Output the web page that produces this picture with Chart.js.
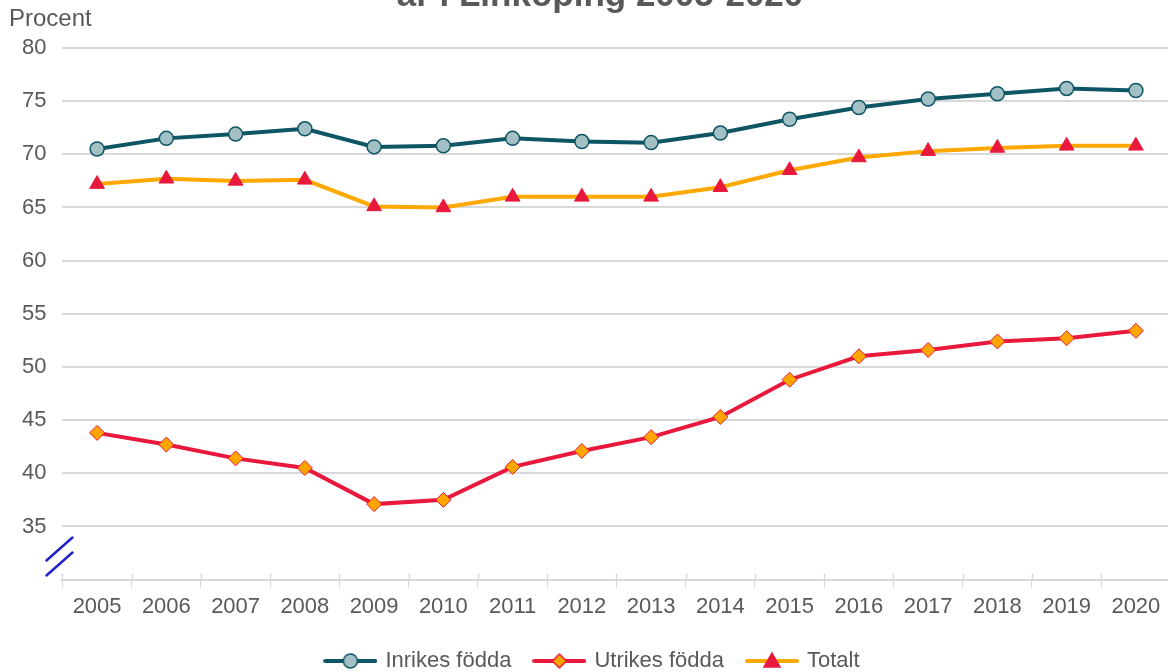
<!DOCTYPE html>
<html>
<head>
<meta charset="utf-8">
<script src="https://cdn.jsdelivr.net/npm/chart.js@4"></script>
<style>
  html, body { margin: 0; padding: 0; background: #fff; overflow: hidden; }
  #wrap { width: 1180px; height: 682px; position: relative; }
</style>
</head>
<body>
<div id="wrap"><canvas id="chart"></canvas></div>
<script>
const years = ['2005', '2006', '2007', '2008', '2009', '2010', '2011', '2012', '2013', '2014', '2015', '2016', '2017', '2018', '2019', '2020'];
const inrikes = [70.5, 71.5, 71.9, 72.4, 70.7, 70.8, 71.5, 71.2, 71.1, 72.0, 73.3, 74.4, 75.2, 75.7, 76.2, 76.0];
const utrikes = [43.8, 42.7, 41.4, 40.5, 37.1, 37.5, 40.6, 42.1, 43.4, 45.3, 48.8, 51.0, 51.6, 52.4, 52.7, 53.4];
const totalt = [67.2, 67.7, 67.5, 67.6, 65.1, 65.0, 66.0, 66.0, 66.0, 66.9, 68.5, 69.7, 70.3, 70.6, 70.8, 70.8];
const seriesNames = ['Inrikes födda', 'Utrikes födda', 'Totalt'];
const titleText = 'år i Linköping 2005-2020';
const yUnit = 'Procent';

const grey = '#595959';
const font = 'Liberation Sans, Arial, sans-serif';

// legend symbol: line with marker in the middle
function legendIcon(lineColor, markerFill, markerStroke, shape) {
    const c = document.createElement('canvas');
    c.width = 54; c.height = 20;
    const ctx = c.getContext('2d');
    ctx.strokeStyle = lineColor;
    ctx.lineWidth = 4;
    ctx.lineCap = 'round';
    ctx.beginPath();
    ctx.moveTo(2, 10); ctx.lineTo(52, 10);
    ctx.stroke();
    ctx.fillStyle = markerFill;
    ctx.strokeStyle = markerStroke;
    ctx.lineWidth = 1.5;
    ctx.beginPath();
    if (shape === 'circle') {
        ctx.arc(27, 10, 7, 0, Math.PI * 2);
    } else if (shape === 'diamond') {
        ctx.moveTo(27, 3); ctx.lineTo(34, 10); ctx.lineTo(27, 17); ctx.lineTo(20, 10); ctx.closePath();
    } else {
        ctx.moveTo(27, 2); ctx.lineTo(35, 16); ctx.lineTo(19, 16); ctx.closePath();
    }
    ctx.fill();
    ctx.stroke();
    return c;
}

const icons = [
    legendIcon('#0e5565', '#a3c1c5', '#0e5565', 'circle'),
    legendIcon('#e8193c', '#ffa500', '#e8193c', 'diamond'),
    legendIcon('#ffa800', '#e8193c', '#e8193c', 'triangle')
];

const extras = {
    id: 'extras',
    afterDraw(chart) {
        const ctx = chart.ctx;
        const area = chart.chartArea;
        const y = chart.scales.y;
        const x = chart.scales.x;
        ctx.save();
        // title, cut at the top edge as in the original
        ctx.font = 'bold 35px ' + font;
        ctx.fillStyle = grey;
        ctx.textAlign = 'center';
        ctx.textBaseline = 'alphabetic';
        ctx.fillText(titleText, 600, 6);
        // unit label
        ctx.font = '24px ' + font;
        ctx.textAlign = 'left';
        ctx.textBaseline = 'middle';
        ctx.fillText(yUnit, 9, 19);
        // short tick stubs above the x axis line
        ctx.strokeStyle = '#d9d9d9';
        ctx.lineWidth = 1.5;
        ctx.beginPath();
        for (let i = 0; i <= years.length; i++) {
            const px = Math.round(x.getPixelForValue(i - 0.5)) + 0.5;
            ctx.moveTo(px, area.bottom - 6); ctx.lineTo(px, area.bottom);
        }
        ctx.stroke();
        // axis break marks
        ctx.strokeStyle = '#2323c8';
        ctx.lineWidth = 2.5;
        ctx.lineCap = 'round';
        const x0 = area.left - 16, x1 = area.left + 10;
        const yb = y.getPixelForValue(31.8);
        ctx.beginPath();
        ctx.moveTo(x0, yb); ctx.lineTo(x1, yb - 23);
        ctx.moveTo(x0, yb + 15); ctx.lineTo(x1, yb - 8);
        ctx.stroke();
        ctx.restore();
    }
};

new Chart(document.getElementById('chart'), {
    type: 'line',
    data: {
        labels: years,
        datasets: [{
            label: seriesNames[0],
            data: inrikes,
            borderColor: '#0e5565',
            borderWidth: 4,
            pointStyle: 'circle',
            pointRadius: 7,
            pointBackgroundColor: '#a3c1c5',
            pointBorderColor: '#0e5565',
            pointBorderWidth: 1.5
        }, {
            label: seriesNames[1],
            data: utrikes,
            borderColor: '#e8193c',
            borderWidth: 4,
            pointStyle: 'rectRot',
            pointRadius: 7.5,
            pointBackgroundColor: '#ffa500',
            pointBorderColor: '#e8193c',
            pointBorderWidth: 1
        }, {
            label: seriesNames[2],
            data: totalt,
            borderColor: '#ffa800',
            borderWidth: 4,
            pointStyle: 'triangle',
            pointRadius: 8.5,
            pointBackgroundColor: '#e8193c',
            pointBorderColor: '#e8193c',
            pointBorderWidth: 1
        }]
    },
    options: {
        responsive: true,
        maintainAspectRatio: false,
        animation: false,
        layout: { padding: { top: 48, right: 0, left: 6, bottom: 0 } },
        scales: {
            x: {
                offset: true,
                grid: { display: true, drawOnChartArea: false, color: '#d9d9d9', tickLength: 8, offset: true },
                border: { color: '#d9d9d9', width: 2 },
                ticks: { color: grey, font: { family: font, size: 22 }, padding: 6, maxRotation: 0 }
            },
            y: {
                min: 30,
                max: 80,
                grid: { color: '#d9d9d9', lineWidth: 2, drawTicks: false },
                border: { display: false },
                ticks: {
                    stepSize: 5,
                    color: grey,
                    font: { family: font, size: 22 },
                    padding: 16,
                    callback: v => v === 30 ? '' : v
                }
            }
        },
        plugins: {
            legend: {
                position: 'bottom',
                labels: {
                    usePointStyle: true,
                    pointStyleWidth: 48,
                    padding: 24,
                    color: grey,
                    font: { family: font, size: 22 },
                    generateLabels: chart => chart.data.datasets.map((ds, i) => ({
                        text: ds.label,
                        pointStyle: icons[i],
                        datasetIndex: i,
                        fontColor: grey,
                        lineWidth: 0,
                        hidden: false
                    }))
                }
            },
            tooltip: { enabled: false }
        }
    },
    plugins: [extras]
});
</script>
</body>
</html>
